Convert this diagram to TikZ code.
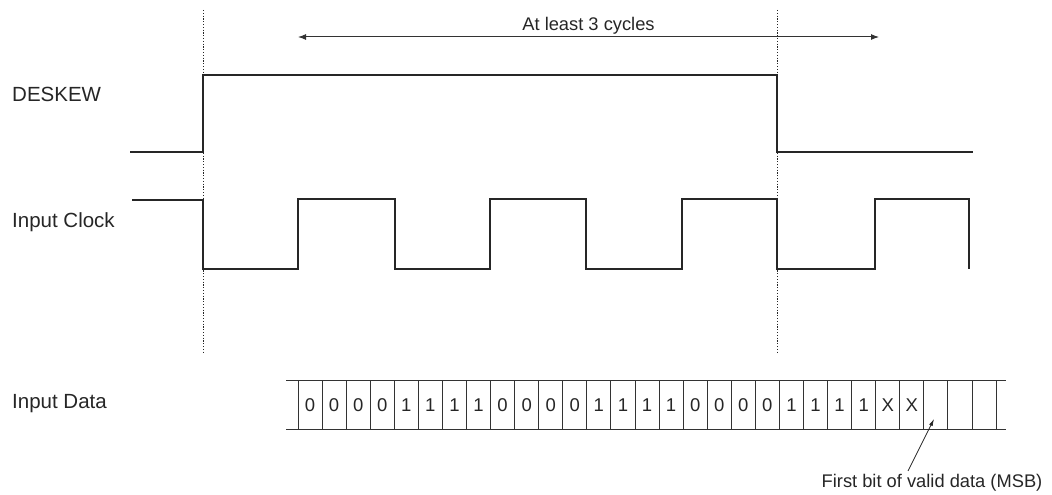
\documentclass[tikz,border=0pt]{standalone}
\usepackage{fontspec}
\setmainfont{Liberation Sans}
\usetikzlibrary{arrows.meta}
\begin{document}
\begin{tikzpicture}[x=1pt,y=-1pt,
  sig/.style={draw=black!85, line width=1.1pt, line join=miter},
  guide/.style={draw=black!85, dash pattern=on 1.2pt off 1.6pt, line width=0.9pt},
  cellline/.style={draw=black!80, line width=0.9pt},
  dim/.style={draw=black!80, line width=1.0pt, {Latex[length=8pt,width=6pt]}-{Latex[length=8pt,width=6pt]}},
  note/.style={draw=black!85, line width=0.7pt, -{Latex[length=7pt,width=4pt]}},
  lbl/.style={anchor=west, inner sep=0pt, font=\fontsize{20.5}{24}\selectfont, text=black!85},
  txt/.style={inner sep=0pt, font=\fontsize{18.3}{22}\selectfont, text=black!85},
  bit/.style={inner sep=0pt, font=\fontsize{18.5}{22}\selectfont, text=black!85}]
\useasboundingbox (0,0) rectangle (1052,495);

% guides
\coordinate (g1t) at (203,10);
\coordinate (g1b) at (203,352);
\coordinate (g2t) at (777,10);
\coordinate (g2b) at (777,352);
\draw[guide] (g1t) -- (g1b);
\draw[guide] (g2t) -- (g2b);

% dimension arrow
\coordinate (da) at (298,37);
\coordinate (db) at (879,37);
\draw[dim] (da) -- (db);
\node[txt, anchor=base] (cyc) at (588.5,31) {At least 3 cycles};

% labels
\node[lbl] (ldes) at (12,94) {DESKEW};
\node[lbl] (lclk) at (12,222) {Input Clock};
\node[lbl] (ldat) at (12,404) {Input Data};

% DESKEW
\draw[sig] (130,152) -- (203,152) -- (203,75) -- (777,75) -- (777,152) -- (973,152);

% Input clock
\draw[sig] (132,200) -- (203,200) -- (203,269) -- (298,269) -- (298,199)
  -- (395,199) -- (395,269) -- (490,269) -- (490,199) -- (586,199) -- (586,269)
  -- (682,269) -- (682,199) -- (777,199) -- (777,269) -- (875,269) -- (875,199)
  -- (969,199) -- (969,269);

% Input data
\draw[cellline] (286,380) -- (1006,380);
\draw[cellline] (286,429) -- (1006,429);
\foreach \i in {0,...,29}{
  \draw[cellline] ({298+\i*24.07},380) -- ({298+\i*24.07},429);
}
\foreach \v [count=\i from 0] in {0,0,0,0,1,1,1,1,0,0,0,0,1,1,1,1,0,0,0,0,1,1,1,1,X,X}{
  \node[bit] (b\i) at ({298+(\i+0.5)*24.07},405) {\v};
}
\coordinate (msb) at (934,419);
\node[txt, anchor=base] (fb) at (932,487) {First bit of valid data (MSB)};
\coordinate (fbt) at (908,471);
\draw[note] (fbt) -- (msb);
\end{tikzpicture}
\end{document}
